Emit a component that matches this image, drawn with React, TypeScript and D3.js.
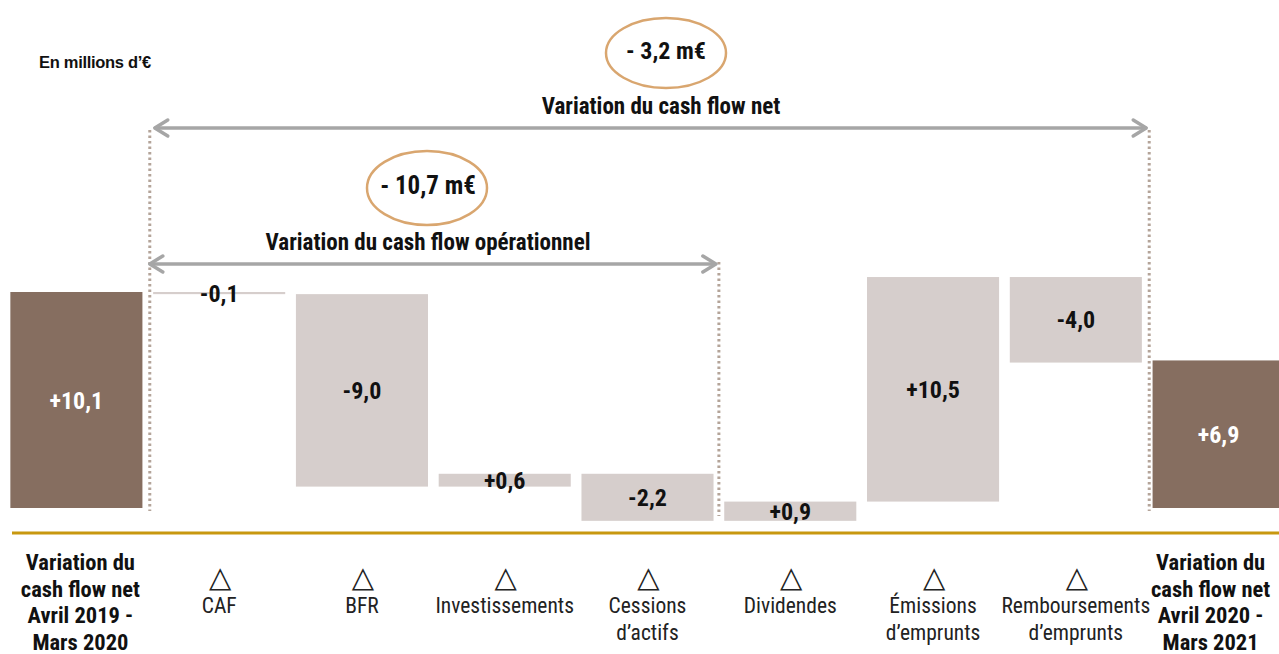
import React from "react";
import * as d3 from "d3";

// ---------- data ----------
const categories = [
  "Variation du cash flow net Avril 2019 - Mars 2020",
  "CAF",
  "BFR",
  "Investissements",
  "Cessions d’actifs",
  "Dividendes",
  "Émissions d’emprunts",
  "Remboursements d’emprunts",
  "Variation du cash flow net Avril 2020 - Mars 2021",
];
const categoryLines = [
  ["Variation du", "cash flow net", "Avril 2019 -", "Mars 2020"],
  ["CAF"],
  ["BFR"],
  ["Investissements"],
  ["Cessions", "d’actifs"],
  ["Dividendes"],
  ["Émissions", "d’emprunts"],
  ["Remboursements", "d’emprunts"],
  ["Variation du", "cash flow net", "Avril 2020 -", "Mars 2021"],
];
const barKinds = ["total", "delta", "delta", "delta", "delta", "delta", "delta", "delta", "total"];
const values = [10.1, -0.1, -9.0, 0.6, -2.2, 0.9, 10.5, -4.0, 6.9];
const valueLabels = ["+10,1", "-0,1", "-9,0", "+0,6", "-2,2", "+0,9", "+10,5", "-4,0", "+6,9"];
const unitLabel = "En millions d’€";
const bracketTitles = ["Variation du cash flow net", "Variation du cash flow opérationnel"];
const bracketValues = ["- 3,2 m€", "- 10,7 m€"];

// ---------- style ----------
const W = 1279;
const H = 654;
const NARROW = "'Liberation Sans Narrow', 'Arial Narrow', 'Roboto Condensed', 'Liberation Sans', sans-serif";
const DARK = "#866e60";
const LIGHT = "#d6cecc";
const GOLD = "#c8980f";
const ARROW = "#a6a6a6";
const DOT = "#b4a499";
const RING = "#d9a66f";

type Bar = { cat: string; kind: string; y0: number; y1: number; label: string };

function buildBars(): Bar[] {
  let running = 0;
  return categories.map((cat, i) => {
    const kind = barKinds[i];
    const v = values[i];
    let y0: number, y1: number;
    if (kind === "total") {
      y0 = 0;
      y1 = v;
      running = v;
    } else {
      y0 = running;
      y1 = running + v;
      running = y1;
    }
    return { cat, kind, y0, y1, label: valueLabels[i] };
  });
}

function Arrow({ x1, x2, y }: { x1: number; x2: number; y: number }) {
  const hl = 13;
  const hw = 8;
  return (
    <g stroke={ARROW} strokeWidth={3.5} fill="none" strokeLinecap="round" strokeLinejoin="round">
      <line x1={x1 + 1} x2={x2 - 1} y1={y} y2={y} />
      <polyline points={`${x1 + hl},${y - hw} ${x1},${y} ${x1 + hl},${y + hw}`} />
      <polyline points={`${x2 - hl},${y - hw} ${x2},${y} ${x2 - hl},${y + hw}`} />
    </g>
  );
}

export default function App() {
  const bars = buildBars();
  const x = d3
    .scaleBand<string>()
    .domain(categories)
    .range([5, 1290])
    .paddingInner(0.075)
    .paddingOuter(0.0375);
  const y = d3.scaleLinear().domain([0, 10.1]).range([508, 292]);
  const bw = x.bandwidth();
  const gap = x.step() - bw;
  const boundaryAfter = (i: number) => (x(categories[i]) as number) + bw + gap / 2;

  const dLeft = boundaryAfter(0);
  const dMid = boundaryAfter(4);
  const dRight = boundaryAfter(7);
  const yTopArrow = 128;
  const yOpArrow = 264;
  const yBase = y(0);

  return (
    <svg width={W} height={H} style={{ display: "block", position: "absolute", left: 0, top: 0 }}>
      <rect x={0} y={0} width={W} height={H} fill="#ffffff" />

      {/* unit label */}
      <text x={39} y={68} fontFamily="'Liberation Sans', Arial, sans-serif" fontWeight="bold" fontSize={16.5} fill="#111" letterSpacing={-0.3}>
        {unitLabel}
      </text>

      {/* dotted separators */}
      <g stroke={DOT} strokeWidth={3} strokeDasharray="2.5,3">
        <line x1={dLeft + 2} x2={dLeft + 2} y1={yTopArrow + 2} y2={yBase + 3} />
        <line x1={dRight + 2} x2={dRight + 2} y1={yTopArrow + 2} y2={yBase + 3} />
        <line x1={dMid} x2={dMid} y1={yOpArrow - 2} y2={yBase + 8} />
      </g>

      {/* bars */}
      {bars.map((b, i) => {
        const top = y(Math.max(b.y0, b.y1));
        const bot = y(Math.min(b.y0, b.y1));
        const h = Math.max(1, bot - top);
        const x0 = x(b.cat) as number;
        return (
          <rect key={"bar" + i} x={x0} y={top} width={bw} height={h} fill={b.kind === "total" ? DARK : LIGHT} />
        );
      })}

      {/* value labels */}
      {bars.map((b, i) => {
        const top = y(Math.max(b.y0, b.y1));
        const bot = y(Math.min(b.y0, b.y1));
        const cx = (x(b.cat) as number) + bw / 2;
        const cy = (top + bot) / 2;
        return (
          <text
            key={"vl" + i}
            x={cx}
            y={cy + 8.5}
            textAnchor="middle"
            fontFamily={NARROW}
            fontWeight="bold"
            fontSize={24}
            fill={b.kind === "total" ? "#ffffff" : "#111111"}
          >
            {b.label}
          </text>
        );
      })}

      {/* baseline */}
      <line x1={12} x2={W} y1={533} y2={533} stroke={GOLD} strokeWidth={3} />

      {/* arrows */}
      <Arrow x1={dLeft + 7} x2={dRight - 1} y={yTopArrow} />
      <Arrow x1={dLeft + 2} x2={dMid - 3} y={yOpArrow} />

      {/* bracket titles */}
      <text x={661} y={114} textAnchor="middle" fontFamily={NARROW} fontWeight="bold" fontSize={23} fill="#111">
        {bracketTitles[0]}
      </text>
      <text x={428} y={250} textAnchor="middle" fontFamily={NARROW} fontWeight="bold" fontSize={23} fill="#111">
        {bracketTitles[1]}
      </text>

      {/* ellipses */}
      <ellipse cx={666} cy={53} rx={60} ry={35} fill="none" stroke={RING} strokeWidth={2.5} />
      <text x={666} y={59} textAnchor="middle" fontFamily={NARROW} fontWeight="bold" fontSize={24} fill="#111">
        {bracketValues[0]}
      </text>
      <ellipse cx={427} cy={188} rx={60} ry={37} fill="none" stroke={RING} strokeWidth={2.5} />
      <text x={428} y={194} textAnchor="middle" fontFamily={NARROW} fontWeight="bold" fontSize={25} fill="#111">
        {bracketValues[1]}
      </text>

      {/* category labels */}
      {categories.map((c, i) => {
        const cx = (x(c) as number) + bw / 2;
        const lines = categoryLines[i];
        if (barKinds[i] === "total") {
          const shift = i === 0 ? 4 : -8;
          return (
            <text
              key={"cl" + i}
              x={cx + shift}
              textAnchor="middle"
              fontFamily={NARROW}
              fontWeight="bold"
              fontSize={22.5}
              fill="#111"
            >
              {lines.map((l, j) => (
                <tspan key={j} x={cx + shift} y={570 + j * 26.5}>
                  {l}
                </tspan>
              ))}
            </text>
          );
        }
        return (
          <g key={"cl" + i}>
            <text x={cx + 1} y={587} textAnchor="middle" fontFamily="'DejaVu Sans', sans-serif" fontSize={29} fill="#222">
              △
            </text>
            <text x={cx} textAnchor="middle" fontFamily={NARROW} fontSize={21.5} fill="#222">
              {lines.map((l, j) => (
                <tspan key={j} x={cx} y={613 + j * 27}>
                  {l}
                </tspan>
              ))}
            </text>
          </g>
        );
      })}
    </svg>
  );
}
